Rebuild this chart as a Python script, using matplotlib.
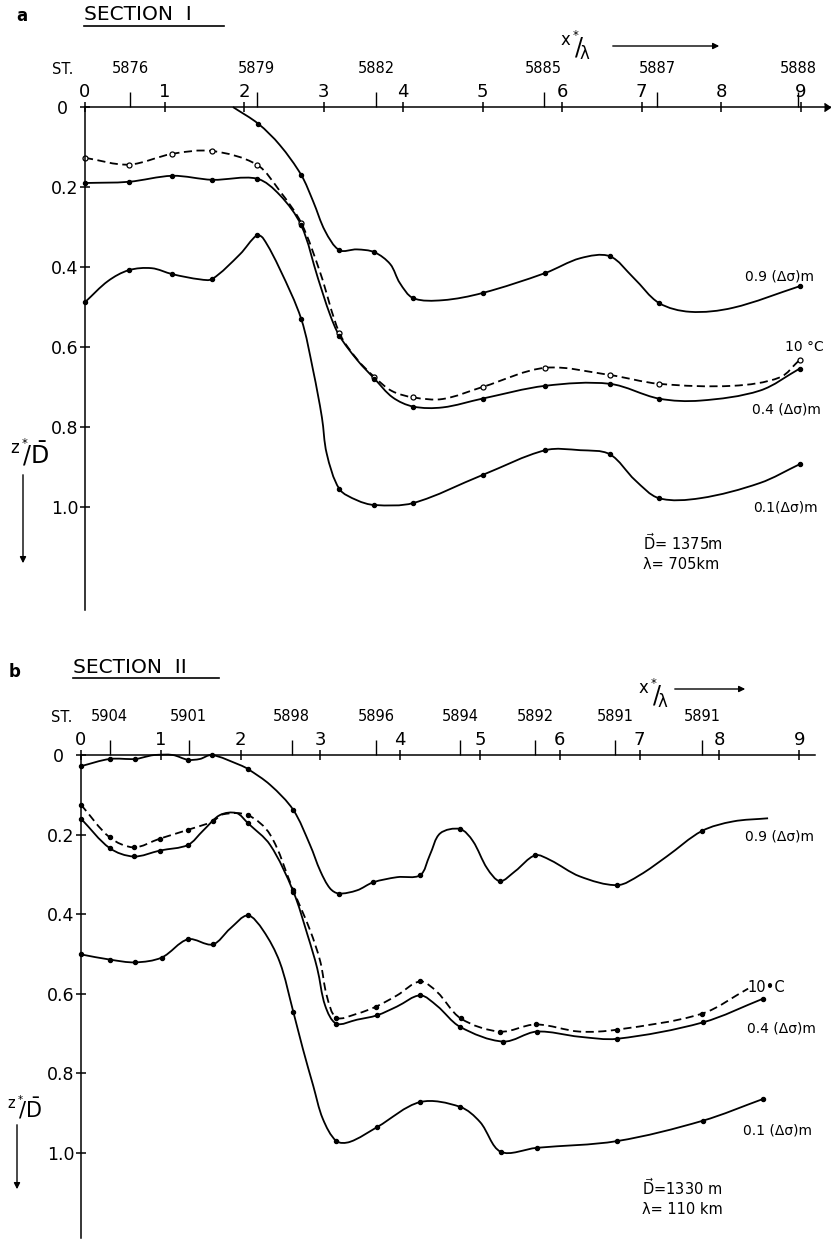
import numpy as np
import matplotlib
matplotlib.use('Agg')
import matplotlib.pyplot as plt
from matplotlib.lines import Line2D
from matplotlib.path import Path
from matplotlib.patches import PathPatch

# ---- section I (panel a) ----
a_ticks = [0, 1, 2, 3, 4, 5, 6, 7, 8, 9]
a_yticks = [0, 0.2, 0.4, 0.6, 0.8, 1.0]
a_stn_x = [0.57, 2.16, 3.66, 5.77, 7.2, 8.97]
a_stn_lab = ['5876', '5879', '5882', '5885', '5887', '5888']
a_dots = [0, 0.55, 1.1, 1.6, 2.16, 2.72, 3.2, 3.64, 4.13, 5.0, 5.79, 6.6, 7.22, 8.99]

a_09_x = [1.86, 2.18, 2.45, 2.72, 2.87, 3.02, 3.2, 3.42, 3.64, 3.84, 3.96, 4.13, 4.5,
          5.0, 5.79, 6.23, 6.6, 6.9, 7.22, 7.61, 8.15, 8.99]
a_09_z = [0.0, 0.042, 0.095, 0.17, 0.236, 0.31, 0.358, 0.356, 0.363, 0.393, 0.44, 0.478,
          0.483, 0.465, 0.415, 0.378, 0.373, 0.427, 0.49, 0.512, 0.502, 0.448]
a_10c_x = [0, 0.55, 1.1, 1.6, 2.16, 2.45, 2.72, 2.96, 3.2, 3.42, 3.64, 3.86, 4.13, 4.5,
           5.0, 5.79, 6.6, 7.22, 8.15, 8.74, 8.99]
a_10c_z = [0.127, 0.144, 0.117, 0.11, 0.144, 0.21, 0.29, 0.415, 0.565, 0.63, 0.675, 0.71,
           0.726, 0.73, 0.70, 0.652, 0.67, 0.692, 0.697, 0.676, 0.632]
a_04_x = [0, 0.55, 1.1, 1.6, 2.16, 2.45, 2.72, 2.93, 3.08, 3.2, 3.43, 3.64, 3.87, 4.13,
          4.5, 5.0, 5.79, 6.6, 7.22, 7.74, 8.49, 8.99]
a_04_z = [0.19, 0.187, 0.172, 0.182, 0.179, 0.22, 0.296, 0.428, 0.518, 0.572, 0.634, 0.679,
          0.726, 0.749, 0.751, 0.729, 0.697, 0.692, 0.729, 0.734, 0.709, 0.654]
a_01_x = [0, 0.29, 0.55, 0.84, 1.1, 1.45, 1.6, 1.95, 2.16, 2.24, 2.45, 2.72, 2.87, 2.98,
          3.04, 3.2, 3.42, 3.64, 4.13, 5.0, 5.79, 6.23, 6.6, 6.92, 7.22, 7.74, 8.49, 8.99]
a_01_z = [0.488, 0.435, 0.408, 0.403, 0.418, 0.431, 0.43, 0.368, 0.321, 0.328, 0.405, 0.53,
          0.659, 0.776, 0.866, 0.955, 0.983, 0.995, 0.99, 0.92, 0.858, 0.858, 0.868, 0.933,
          0.978, 0.978, 0.94, 0.893]

# ---- section II (panel b) ----
b_ticks = [0, 1, 2, 3, 4, 5, 6, 7, 8, 9]
b_yticks = [0, 0.2, 0.4, 0.6, 0.8, 1.0]
b_stn_x = [0.36, 1.35, 2.64, 3.7, 4.75, 5.69, 6.69, 7.78]
b_stn_lab = ['5904', '5901', '5898', '5896', '5894', '5892', '5891', '5891']
b_dots = [0, 0.36, 0.67, 1.0, 1.34, 1.65, 2.09, 2.66, 3.2, 3.7, 4.25, 4.75, 5.27, 5.7,
          6.72, 7.79, 8.55]

b_09_x = [0, 0.36, 0.68, 0.84, 0.92, 1.15, 1.34, 1.49, 1.64, 1.99, 2.09, 2.37, 2.66, 2.87,
          3.0, 3.12, 3.23, 3.46, 3.66, 3.96, 4.25, 4.37, 4.5, 4.75, 4.91, 5.09, 5.25, 5.44,
          5.69, 5.88, 6.25, 6.72, 7.0, 7.34, 7.78, 8.17, 8.61]
b_09_z = [0.028, 0.01, 0.01, 0.003, 0.0, 0.0, 0.012, 0.01, 0.0, 0.025, 0.035, 0.075, 0.138,
          0.226, 0.292, 0.335, 0.348, 0.34, 0.32, 0.307, 0.302, 0.252, 0.197, 0.186, 0.216,
          0.285, 0.317, 0.292, 0.252, 0.264, 0.305, 0.327, 0.302, 0.255, 0.191, 0.167, 0.159]
b_10c_x = [0, 0.36, 0.66, 0.99, 1.34, 1.65, 1.78, 2.09, 2.37, 2.66, 2.87, 3.0, 3.08, 3.2,
           3.46, 3.7, 3.96, 4.25, 4.46, 4.76, 5.25, 5.7, 6.25, 6.72, 7.78, 8.36]
b_10c_z = [0.125, 0.207, 0.232, 0.21, 0.188, 0.167, 0.149, 0.151, 0.2, 0.34, 0.44, 0.52,
           0.605, 0.66, 0.65, 0.632, 0.604, 0.569, 0.595, 0.662, 0.695, 0.677, 0.695, 0.69,
           0.65, 0.587]
b_04_x = [0, 0.36, 0.66, 0.99, 1.34, 1.53, 1.74, 1.95, 2.09, 2.37, 2.66, 2.84, 2.96, 3.06,
          3.2, 3.46, 3.71, 3.96, 4.25, 4.46, 4.75, 5.29, 5.71, 6.25, 6.72, 7.79, 8.55]
b_04_z = [0.16, 0.234, 0.255, 0.24, 0.226, 0.19, 0.151, 0.146, 0.171, 0.226, 0.343, 0.453,
          0.536, 0.63, 0.675, 0.665, 0.654, 0.632, 0.604, 0.63, 0.683, 0.72, 0.695, 0.708,
          0.713, 0.672, 0.612]
b_01_x = [0, 0.36, 0.68, 1.01, 1.34, 1.65, 1.87, 2.09, 2.28, 2.49, 2.66, 2.78, 2.91, 3.03,
          3.2, 3.37, 3.71, 4.25, 4.75, 5.0, 5.26, 5.71, 6.72, 7.79, 8.55]
b_01_z = [0.501, 0.514, 0.521, 0.509, 0.463, 0.476, 0.436, 0.403, 0.44, 0.52, 0.645, 0.738,
          0.831, 0.914, 0.97, 0.972, 0.935, 0.872, 0.884, 0.922, 0.997, 0.987, 0.97, 0.919,
          0.864]

W, H = 831, 1240
plt.rcParams['font.family'] = ['DejaVu Sans']
plt.rcParams['mathtext.default'] = 'regular'

fig = plt.figure(figsize=(W / 100, H / 100), dpi=100)


def fx(px):
    return px / W


def fy(py):
    return 1 - py / H


def txt(px, py, s, **kw):
    kw.setdefault('va', 'center')
    kw.setdefault('fontsize', 10)
    fig.text(fx(px), fy(py), s, **kw)


def section_axes(left, right, top, bottom, xscale, zscale, ticks, yticks, stn_x, stn_lab):
    ax = fig.add_axes([fx(left), fy(bottom), (right - left) / W, (bottom - top) / H])
    ax.set_xlim(0, (right - left) / xscale)
    ax.set_ylim((bottom - top) / zscale, 0)
    ax.sx, ax.sz = xscale, zscale
    for s in ['right', 'bottom']:
        ax.spines[s].set_visible(False)
    for s in ['top', 'left']:
        ax.spines[s].set_linewidth(1.1)
    ax.xaxis.set_ticks_position('top')
    ax.set_xticks(ticks)
    ax.set_xticklabels([str(t) for t in ticks])
    ax.tick_params(axis='x', direction='inout', length=7, width=1.1, pad=0.5, labelsize=13)
    ax.set_yticks(yticks)
    ax.set_yticklabels(['0  '] + ['%.1f' % v for v in yticks[1:]])
    ax.tick_params(axis='y', direction='inout', length=7, width=1.1, pad=1, labelsize=12.5)
    sec = ax.secondary_xaxis('top')
    sec.spines['top'].set_visible(False)
    sec.set_xticks(stn_x)
    sec.set_xticklabels(stn_lab)
    sec.tick_params(direction='out', length=11, width=1.0, pad=11, labelsize=10.5)
    ax.patch.set_alpha(0)
    return ax


def smooth_path(x, z, sx, sz):
    # chord-length Catmull-Rom through the read points, drawn as cubic Bezier segments
    P = np.column_stack([np.asarray(x, float) * sx, np.asarray(z, float) * sz])
    n = len(P)
    t = np.concatenate([[0], np.cumsum(np.linalg.norm(np.diff(P, axis=0), axis=1))])
    M = np.zeros_like(P)
    M[0] = (P[1] - P[0]) / (t[1] - t[0])
    M[-1] = (P[-1] - P[-2]) / (t[-1] - t[-2])
    for i in range(1, n - 1):
        M[i] = (P[i + 1] - P[i - 1]) / (t[i + 1] - t[i - 1])
    verts = [P[0]]
    codes = [Path.MOVETO]
    for i in range(n - 1):
        h = t[i + 1] - t[i]
        verts += [P[i] + M[i] * h / 3, P[i + 1] - M[i + 1] * h / 3, P[i + 1]]
        codes += [Path.CURVE4] * 3
    verts = np.array(verts) / [sx, sz]
    return Path(verts, codes)


def draw_curve(ax, x, z, dots, dashed=False, open_marker=False):
    x = np.asarray(x)
    z = np.asarray(z)
    near = np.abs(x[:, None] - np.asarray(dots)[None, :]).min(axis=1) < 0.05
    ls = (0, (4.5, 2.5)) if dashed else '-'
    ax.add_patch(PathPatch(smooth_path(x, z, ax.sx, ax.sz), fill=False, ec='k', lw=1.3,
                           ls=ls, joinstyle='round', clip_on=False))
    ax.plot(x[near], z[near], ls='none', marker='o',
            ms=3.6 if open_marker else 3.0,
            mfc='white' if open_marker else 'k', mec='k', mew=0.9, clip_on=False)


# ---------- panel a ----------
axa = section_axes(85, 830, 107, 610, 79.5, 400, a_ticks, a_yticks, a_stn_x, a_stn_lab)
axa.plot([1], [1], marker=5, ms=6, color='k', transform=axa.transAxes, clip_on=False)
draw_curve(axa, a_09_x, a_09_z, a_dots)
draw_curve(axa, a_10c_x, a_10c_z, a_dots, dashed=True, open_marker=True)
draw_curve(axa, a_04_x, a_04_z, a_dots)
draw_curve(axa, a_01_x, a_01_z, a_dots)

txt(16, 16, 'a', fontsize=12, fontweight='bold')
txt(84, 15, 'SECTION  I', fontsize=14.5)
fig.add_artist(Line2D([fx(84), fx(224)], [fy(26), fy(26)], color='k', lw=1.2))
txt(575, 46, r'$^{x^*}\!\!/_{\!\lambda}$', fontsize=17, ha='center')
axa.annotate('', xy=(722, H - 46), xytext=(610, H - 46), xycoords='figure pixels',
             arrowprops=dict(arrowstyle='-|>', lw=1.0, color='k', mutation_scale=9))
txt(63, 70, 'ST.', fontsize=10.5, ha='center')
txt(30, 452, r'$^{z^*}\!\!/\bar{D}$', fontsize=17, ha='center')
axa.annotate('', xy=(23, H - 566), xytext=(23, H - 472), xycoords='figure pixels',
             arrowprops=dict(arrowstyle='-|>', lw=1.0, color='k', mutation_scale=9))
txt(745, 277, '0.9 (\u0394\u03c3)m')
txt(785, 347, '10 \u00b0C')
txt(752, 410, '0.4 (\u0394\u03c3)m')
txt(753, 507, '0.1(\u0394\u03c3)m')
txt(643, 543, r'$\vec{\mathrm{D}}$= 1375m', fontsize=10.5)
txt(643, 565, '\u03bb= 705km', fontsize=10.5)

# ---------- panel b ----------
axb = section_axes(81, 815, 755, 1238, 79.8, 398, b_ticks, b_yticks, b_stn_x, b_stn_lab)
draw_curve(axb, b_09_x, b_09_z, b_dots)
draw_curve(axb, b_10c_x, b_10c_z, b_dots, dashed=True)
draw_curve(axb, b_04_x, b_04_z, b_dots)
draw_curve(axb, b_01_x, b_01_z, b_dots)

txt(9, 672, 'b', fontsize=12, fontweight='bold')
txt(73, 667, 'SECTION  II', fontsize=14.5)
fig.add_artist(Line2D([fx(73), fx(219)], [fy(678), fy(678)], color='k', lw=1.2))
txt(653, 694, r'$^{x^*}\!\!/_{\!\lambda}$', fontsize=17, ha='center')
axb.annotate('', xy=(748, H - 689), xytext=(672, H - 689), xycoords='figure pixels',
             arrowprops=dict(arrowstyle='-|>', lw=1.0, color='k', mutation_scale=9))
txt(62, 718, 'ST.', fontsize=10.5, ha='center')
txt(25, 1108, r'$^{z^*}\!\!/\bar{D}$', fontsize=15, ha='center')
axb.annotate('', xy=(17, H - 1192), xytext=(17, H - 1122), xycoords='figure pixels',
             arrowprops=dict(arrowstyle='-|>', lw=1.0, color='k', mutation_scale=9))
txt(745, 837, '0.9 (\u0394\u03c3)m')
txt(747, 987, '10\u2022C', fontsize=10.5)
txt(747, 1028, '0.4 (\u0394\u03c3)m')
txt(743, 1130, '0.1 (\u0394\u03c3)m')
txt(642, 1188, r'$\vec{\mathrm{D}}$=1330 m', fontsize=10.5)
txt(642, 1209, '\u03bb= 110 km', fontsize=10.5)

fig.savefig('out.png', dpi=100)
